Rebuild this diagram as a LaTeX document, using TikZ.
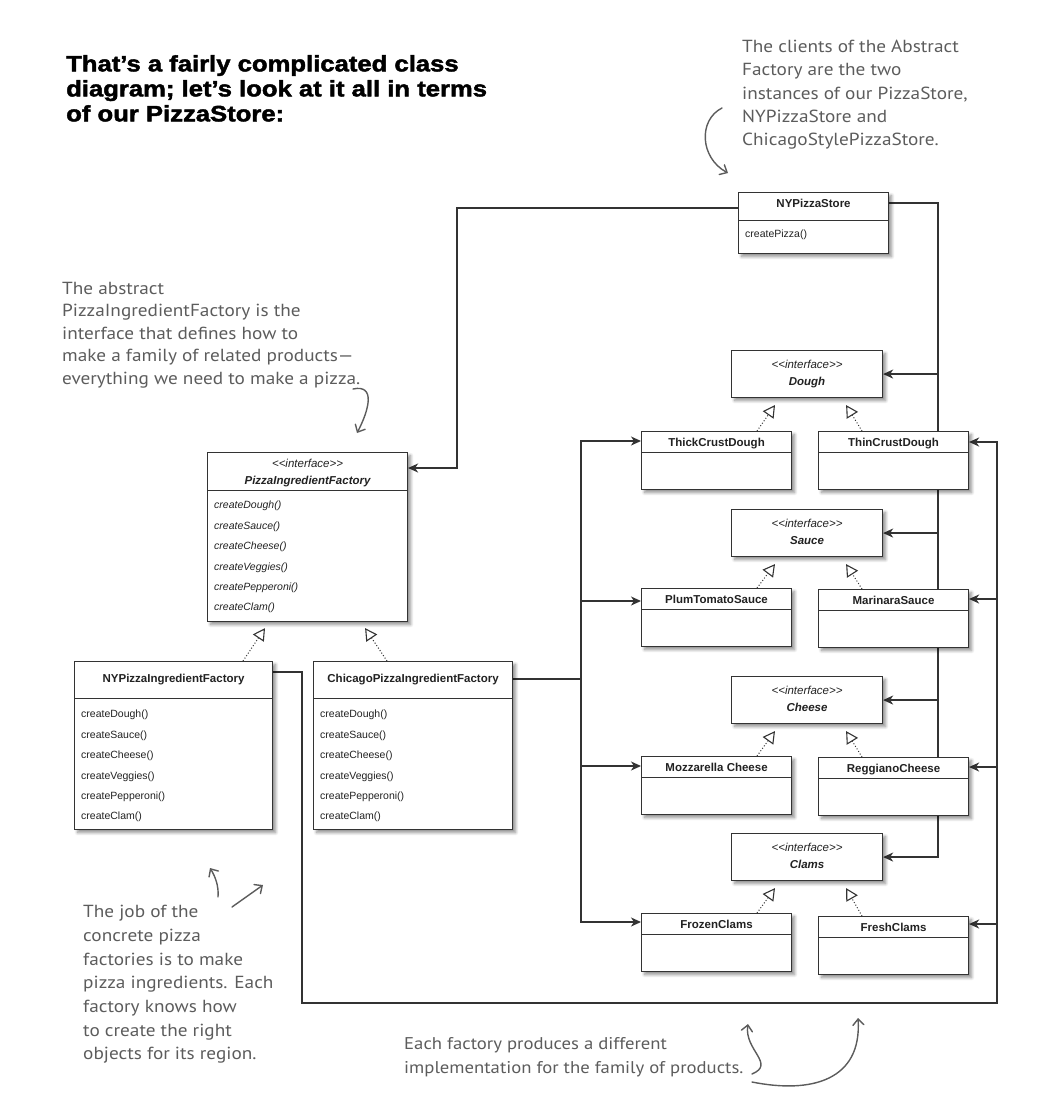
\documentclass[tikz,border=0pt]{standalone}
\usepackage{fontspec}
\setmainfont[Ligatures=TeXOff]{Liberation Sans}
\newfontfamily\headfont[FakeStretch=1.15,FakeBold=2]{Liberation Sans Bold}
\newfontfamily\handfont[FakeStretch=1.1]{PT Sans}
\usetikzlibrary{positioning,arrows.meta,shadows.blur,backgrounds}
\definecolor{ink}{HTML}{222222}
\definecolor{wire}{HTML}{333333}
\definecolor{pen}{HTML}{5C5C5C}

\begin{document}
\begin{tikzpicture}
  [x=1pt, y=-1pt,
   classbox/.style={draw=wire, fill=white, line width=1.1pt, inner sep=0pt, anchor=north west,
     blur shadow={shadow xshift=3pt, shadow yshift=-3pt, shadow blur radius=3pt,
       shadow blur steps=8, shadow opacity=45}},
   productN/.style={classbox, minimum width=150pt, minimum height=58pt},
   ifaceN/.style={classbox, minimum width=151pt, minimum height=47pt},
   factoryN/.style={classbox, minimum width=199pt, minimum height=168pt},
   nameT/.style={font=\fontsize{11.5}{13}\selectfont\bfseries, text=ink, inner sep=0pt, anchor=base},
   stereoT/.style={font=\fontsize{11.5}{13}\selectfont\itshape, text=ink, inner sep=0pt, anchor=base},
   methodT/.style={font=\fontsize{10.5}{20.4}\selectfont, text=ink, inner sep=0pt, align=left, anchor=north west},
   headT/.style={font=\headfont\fontsize{22.3}{25}\selectfont, text=black, inner sep=0pt, align=left, anchor=north west},
   noteT/.style={font=\handfont\fontsize{17.5}{23.3}\selectfont, text=pen, inner sep=0pt, align=left, anchor=north west},
   divider/.style={draw=wire, line width=0.8pt},
   wireL/.style={draw=wire, line width=1.6pt, line cap=rect},
   uses/.style={draw=wire, line width=1.6pt, -{Stealth[length=10pt, width=9pt, inset=3pt]}},
   realizes/.style={draw=wire, line width=1pt, dotted, -{Triangle[open, length=12pt, width=13pt, line width=1.1pt]}},
   penA/.style={draw=pen, line width=1.4pt, line cap=round, -{Straight Barb[length=6pt, width=11pt, line cap=round]}},
  ]
 \useasboundingbox (0,0) rectangle (1054,1096);

 % heading and notes
 \node[headT] (heading) at (66,55) {That’s a fairly complicated class\\diagram; let’s look at it all in terms\\of our PizzaStore:};
 \node[noteT] (clientsNote) at (742,40) {The clients of the Abstract\\Factory are the two\\instances of our PizzaStore,\\NYPizzaStore and\\ChicagoStylePizzaStore.};
 \node[noteT, font=\handfont\fontsize{17.5}{22.5}\selectfont] (abstractNote) at (62,282) {The abstract\\PizzaIngredientFactory is the\\interface that defines how to\\make a family of related products—\\everything we need to make a pizza.};
 \node[noteT, font=\handfont\fontsize{17.5}{23.7}\selectfont] (jobNote) at (83,905) {The job of the\\concrete pizza\\factories is to make\\pizza ingredients. Each\\factory knows how\\to create the right\\objects for its region.};
 \node[noteT, font=\handfont\fontsize{17}{24}\selectfont] (familyNote) at (404,1037) {Each factory produces a different\\implementation for the family of products.};

 % the client
 \node[classbox, minimum width=150pt, minimum height=61pt] (nystore) at (738,192) {};
 \node[nameT] (nystore-name) at ([yshift=-15pt]nystore.north) {NYPizzaStore};
 \draw[divider] ([yshift=-28pt]nystore.north west) -- ([yshift=-28pt]nystore.north east);
 \node[methodT] (nystore-ops) at ([xshift=7pt,yshift=-38pt]nystore.north west) {createPizza()};

 % abstract factory
 \node[classbox, minimum width=200pt, minimum height=169pt] (absf) at (207,452) {};
 \node[stereoT] (absf-stereo) at ([yshift=-15pt]absf.north) {<<interface>>};
 \node[nameT, font=\fontsize{11.5}{13}\selectfont\bfseries\itshape] (absf-name) at ([yshift=-32pt]absf.north) {PizzaIngredientFactory};
 \draw[divider] ([yshift=-38pt]absf.north west) -- ([yshift=-38pt]absf.north east);
 \node[methodT, font=\fontsize{10.5}{20.4}\selectfont\itshape] (absf-ops) at ([xshift=7pt,yshift=-49pt]absf.north west)
   {createDough()\\createSauce()\\createCheese()\\createVeggies()\\createPepperoni()\\createClam()};

 % concrete factories
 \node[factoryN, minimum width=198pt] (nyf) at (74,661) {};
 \node[nameT] (nyf-name) at ([yshift=-21pt]nyf.north) {NYPizzaIngredientFactory};
 \draw[divider] ([yshift=-37pt]nyf.north west) -- ([yshift=-37pt]nyf.north east);
 \node[methodT] (nyf-ops) at ([xshift=7pt,yshift=-49pt]nyf.north west)
   {createDough()\\createSauce()\\createCheese()\\createVeggies()\\createPepperoni()\\createClam()};

 \node[factoryN] (chif) at (313,661) {};
 \node[nameT] (chif-name) at ([yshift=-21pt]chif.north) {ChicagoPizzaIngredientFactory};
 \draw[divider] ([yshift=-37pt]chif.north west) -- ([yshift=-37pt]chif.north east);
 \node[methodT] (chif-ops) at ([xshift=7pt,yshift=-49pt]chif.north west)
   {createDough()\\createSauce()\\createCheese()\\createVeggies()\\createPepperoni()\\createClam()};

 % product interfaces
 \node[ifaceN] (dough) at (731,350) {};
 \node[stereoT] at ([yshift=-18pt]dough.north) {<<interface>>};
 \node[nameT, font=\fontsize{11.5}{13}\selectfont\bfseries\itshape] (dough-name) at ([yshift=-35pt]dough.north) {Dough};
 \node[ifaceN] (sauce) at (731,509) {};
 \node[stereoT] at ([yshift=-18pt]sauce.north) {<<interface>>};
 \node[nameT, font=\fontsize{11.5}{13}\selectfont\bfseries\itshape] (sauce-name) at ([yshift=-35pt]sauce.north) {Sauce};
 \node[ifaceN] (cheese) at (731,676) {};
 \node[stereoT] at ([yshift=-18pt]cheese.north) {<<interface>>};
 \node[nameT, font=\fontsize{11.5}{13}\selectfont\bfseries\itshape] (cheese-name) at ([yshift=-35pt]cheese.north) {Cheese};
 \node[ifaceN] (clams) at (731,833) {};
 \node[stereoT] at ([yshift=-18pt]clams.north) {<<interface>>};
 \node[nameT, font=\fontsize{11.5}{13}\selectfont\bfseries\itshape] (clams-name) at ([yshift=-35pt]clams.north) {Clams};

 % concrete products
 \node[productN] (thick) at (641,431) {};
 \node[nameT] (thick-name) at ([yshift=-15pt]thick.north) {ThickCrustDough};
 \draw[divider] ([yshift=-21pt]thick.north west) -- ([yshift=-21pt]thick.north east);
 \node[productN] (thin) at (818,431) {};
 \node[nameT] (thin-name) at ([yshift=-15pt]thin.north) {ThinCrustDough};
 \draw[divider] ([yshift=-21pt]thin.north west) -- ([yshift=-21pt]thin.north east);
 \node[productN] (plum) at (641,588) {};
 \node[nameT] (plum-name) at ([yshift=-15pt]plum.north) {PlumTomatoSauce};
 \draw[divider] ([yshift=-21pt]plum.north west) -- ([yshift=-21pt]plum.north east);
 \node[productN] (marinara) at (818,589) {};
 \node[nameT] (marinara-name) at ([yshift=-15pt]marinara.north) {MarinaraSauce};
 \draw[divider] ([yshift=-21pt]marinara.north west) -- ([yshift=-21pt]marinara.north east);
 \node[productN] (mozz) at (641,756) {};
 \node[nameT] (mozz-name) at ([yshift=-15pt]mozz.north) {Mozzarella Cheese};
 \draw[divider] ([yshift=-21pt]mozz.north west) -- ([yshift=-21pt]mozz.north east);
 \node[productN] (reggiano) at (818,757) {};
 \node[nameT] (reggiano-name) at ([yshift=-15pt]reggiano.north) {ReggianoCheese};
 \draw[divider] ([yshift=-21pt]reggiano.north west) -- ([yshift=-21pt]reggiano.north east);
 \node[productN] (frozen) at (641,913) {};
 \node[nameT] (frozen-name) at ([yshift=-15pt]frozen.north) {FrozenClams};
 \draw[divider] ([yshift=-21pt]frozen.north west) -- ([yshift=-21pt]frozen.north east);
 \node[productN] (fresh) at (818,916) {};
 \node[nameT] (fresh-name) at ([yshift=-15pt]fresh.north) {FreshClams};
 \draw[divider] ([yshift=-21pt]fresh.north west) -- ([yshift=-21pt]fresh.north east);

 % realization arrows
 \draw[realizes] ([xshift=169pt]nyf.north west) -- ([xshift=58pt,yshift=-6pt]absf.south west);
 \draw[realizes] ([xshift=74pt]chif.north west) -- ([xshift=-43pt,yshift=-6pt]absf.south east);
 \draw[realizes] ([xshift=116pt]thick.north west) -- ([xshift=44pt,yshift=-7pt]dough.south west);
 \draw[realizes] ([xshift=44pt]thin.north west) -- ([xshift=-37pt,yshift=-7pt]dough.south east);
 \draw[realizes] ([xshift=116pt]plum.north west) -- ([xshift=44pt,yshift=-7pt]sauce.south west);
 \draw[realizes] ([xshift=44pt]marinara.north west) -- ([xshift=-37pt,yshift=-7pt]sauce.south east);
 \draw[realizes] ([xshift=116pt]mozz.north west) -- ([xshift=44pt,yshift=-7pt]cheese.south west);
 \draw[realizes] ([xshift=44pt]reggiano.north west) -- ([xshift=-37pt,yshift=-7pt]cheese.south east);
 \draw[realizes] ([xshift=116pt]frozen.north west) -- ([xshift=44pt,yshift=-7pt]clams.south west);
 \draw[realizes] ([xshift=44pt]fresh.north west) -- ([xshift=-37pt,yshift=-7pt]clams.south east);

 % associations, behind the boxes
 \coordinate (storeBus) at (938,0);
 \coordinate (chiBus) at (581,0);
 \coordinate (nyfBus) at (302,0);
 \coordinate (rightBus) at (997,0);
 \coordinate (loopY) at (0,1003);
 \coordinate (storeBend) at (457,0);
 \coordinate (thick-in) at ([yshift=-10pt]thick.north west);
 \coordinate (plum-in) at ([yshift=-13pt]plum.north west);
 \coordinate (mozz-in) at ([yshift=-10pt]mozz.north west);
 \coordinate (frozen-in) at ([yshift=-9pt]frozen.north west);
 \coordinate (thin-in) at ([yshift=-11pt]thin.north east);
 \coordinate (marinara-in) at ([yshift=-10pt]marinara.north east);
 \coordinate (reggiano-in) at ([yshift=-10pt]reggiano.north east);
 \coordinate (fresh-in) at ([yshift=-8pt]fresh.north east);
 \coordinate (absf-in) at ([yshift=-16pt]absf.north east);
 \begin{pgfonlayer}{background}
  \draw[uses] ([yshift=-16pt]nystore.north west) -| (storeBend |- absf-in) -- (absf-in);
  \draw[uses] ([yshift=-11pt]nystore.north east) -| (storeBus |- clams.east) -- (clams.east);
  \draw[uses] (storeBus |- dough.east) -- (dough.east);
  \draw[uses] (storeBus |- sauce.east) -- (sauce.east);
  \draw[uses] (storeBus |- cheese.east) -- (cheese.east);

  \draw[wireL] ([yshift=-18pt]chif.north east) coordinate (chiOut) -- (chiBus |- chiOut);
  \draw[wireL] (chiBus |- thick-in) -- (chiBus |- frozen-in);
  \draw[uses] (chiBus |- thick-in) -- (thick-in);
  \draw[uses] (chiBus |- plum-in) -- (plum-in);
  \draw[uses] (chiBus |- mozz-in) -- (mozz-in);
  \draw[uses] (chiBus |- frozen-in) -- (frozen-in);

  \draw[wireL] ([yshift=-11pt]nyf.north east) -| (nyfBus |- loopY) -| (rightBus |- thin-in);
  \draw[uses] (rightBus |- thin-in) -- (thin-in);
  \draw[uses] (rightBus |- marinara-in) -- (marinara-in);
  \draw[uses] (rightBus |- reggiano-in) -- (reggiano-in);
  \draw[uses] (rightBus |- fresh-in) -- (fresh-in);
 \end{pgfonlayer}

 % pen arrows
 \coordinate (clientsFrom) at (722,108);
 \coordinate (clientsTip) at (728,173);
 \draw[penA] (clientsFrom) .. controls (698,120) and (700,158) .. (clientsTip);
 \coordinate (abstractFrom) at (353,389);
 \coordinate (abstractTip) at (357,433);
 \draw[penA] (abstractFrom) .. controls (376,384) and (369,410) .. (abstractTip);
 \coordinate (jobFromA) at (218,897);
 \coordinate (jobTipA) at (210,868);
 \draw[penA] (jobFromA) .. controls (219,886) and (215,876) .. (jobTipA);
 \coordinate (jobFromB) at (232,907);
 \coordinate (jobTipB) at (263,885);
 \draw[penA] (jobFromB) -- (jobTipB);
 \coordinate (familyFromA) at (752,1074);
 \coordinate (familyTipA) at (748,1024);
 \draw[penA] (familyFromA) .. controls (776,1064) and (744,1050) .. (familyTipA);
 \coordinate (familyFromB) at (752,1082);
 \coordinate (familyTipB) at (858,1018);
 \draw[penA] (familyFromB) .. controls (812,1094) and (862,1080) .. (familyTipB);
\end{tikzpicture}
\end{document}
